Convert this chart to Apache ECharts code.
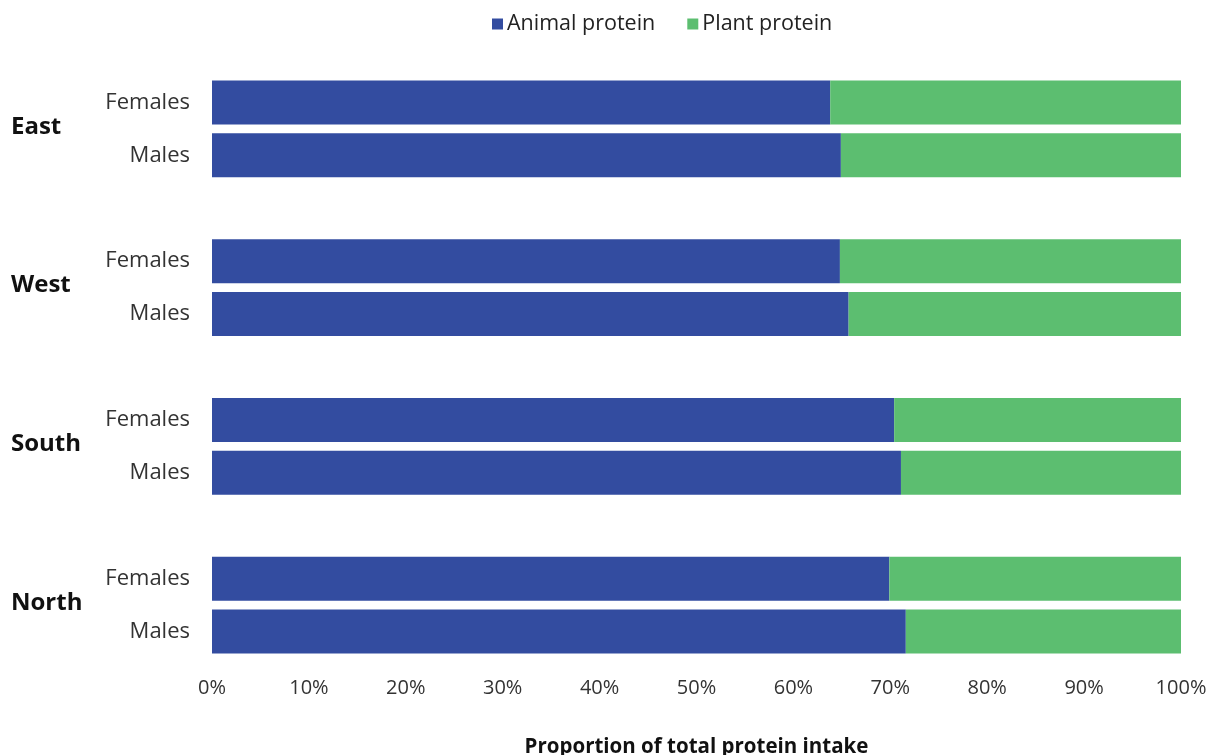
<!DOCTYPE html>
<html>
<head>
<meta charset="utf-8">
<title>Animal vs plant protein intake by region</title>
<script src="https://cdn.jsdelivr.net/npm/echarts@6/dist/echarts.min.js"></script>
<style>
  html, body { margin: 0; padding: 0; background: #fff; }
  #chart { width: 1210px; height: 755px; }
</style>
</head>
<body>
<div id="chart"></div>
<script>
// Regions (top to bottom) and the two sex groups inside each region
const regions = ['East', 'West', 'South', 'North'];
const sexes = ['Females', 'Males'];

// Share of total protein intake (%), ordered East F, East M, West F, West M, ...
const animalProtein = [63.8, 64.9, 64.8, 65.7, 70.4, 71.1, 69.9, 71.6];
const plantProtein  = [36.2, 35.1, 35.2, 34.3, 29.6, 28.9, 30.1, 28.4];

const xTicks = [0, 10, 20, 30, 40, 50, 60, 70, 80, 90, 100];
const seriesNames = ['Animal protein', 'Plant protein'];
const xTitle = 'Proportion of total protein intake';

const FONT = "'Open Sans', 'Noto Sans', sans-serif";

// Category list with an empty spacer slot between regions
const categories = [];
const animalData = [];
const plantData = [];
regions.forEach((r, ri) => {
  if (ri > 0) {
    categories.push('gap|' + ri);
    animalData.push('-');
    plantData.push('-');
  }
  sexes.forEach((s, si) => {
    const k = ri * sexes.length + si;
    categories.push(r + '|' + s);
    animalData.push(animalProtein[k]);
    plantData.push(plantProtein[k]);
  });
});

const chart = echarts.init(document.getElementById('chart'), null, { renderer: 'canvas' });

chart.setOption({
  animation: false,
  textStyle: { fontFamily: FONT },
  color: ['#334ca0', '#5cbe70'],
  legend: {
    data: seriesNames,
    top: 8,
    left: 487,
    icon: 'rect',
    itemWidth: 11,
    itemHeight: 11,
    itemGap: 32,
    textStyle: { fontSize: 21.5, color: '#222', fontFamily: FONT, padding: [0, 0, 0, -1] }
  },
  grid: { left: 212, right: 29, top: 76, bottom: 97, outerBoundsMode: 'none', containLabel: false },
  xAxis: {
    type: 'value',
    min: 0,
    max: 100,
    interval: 10,
    axisLine: { show: false },
    axisTick: { show: false },
    splitLine: { show: false },
    axisLabel: {
      formatter: v => xTicks.includes(v) ? v + '%' : '',
      fontSize: 20,
      color: '#333',
      margin: 20,
      fontFamily: FONT
    },
    name: xTitle,
    nameLocation: 'middle',
    nameGap: 79,
    nameTextStyle: { fontSize: 20.5, fontWeight: 'bold', color: '#111', fontFamily: FONT }
  },
  yAxis: {
    type: 'category',
    inverse: true,
    data: categories,
    axisLine: { show: false },
    axisTick: { show: false },
    splitLine: { show: false },
    axisLabel: {
      formatter: v => v.startsWith('gap|') ? '' : v.split('|')[1],
      fontSize: 22,
      color: '#333',
      margin: 22,
      fontFamily: FONT
    }
  },
  series: [
    {
      name: seriesNames[0],
      type: 'bar',
      stack: 'total',
      barWidth: 44,
      data: animalData
    },
    {
      name: seriesNames[1],
      type: 'bar',
      stack: 'total',
      barWidth: 44,
      data: plantData
    }
  ]
});

// Region headings centred between each region's pair of bars
const groupLabels = regions.map(r => {
  const y1 = chart.convertToPixel({ yAxisIndex: 0 }, r + '|' + sexes[0]);
  const y2 = chart.convertToPixel({ yAxisIndex: 0 }, r + '|' + sexes[sexes.length - 1]);
  return {
    type: 'text',
    x: 11,
    y: (y1 + y2) / 2 - 2,
    style: {
      text: r,
      fontSize: 24,
      fontWeight: 'bold',
      fill: '#111',
      fontFamily: FONT,
      verticalAlign: 'middle'
    }
  };
});
chart.setOption({ graphic: groupLabels });
</script>
</body>
</html>
